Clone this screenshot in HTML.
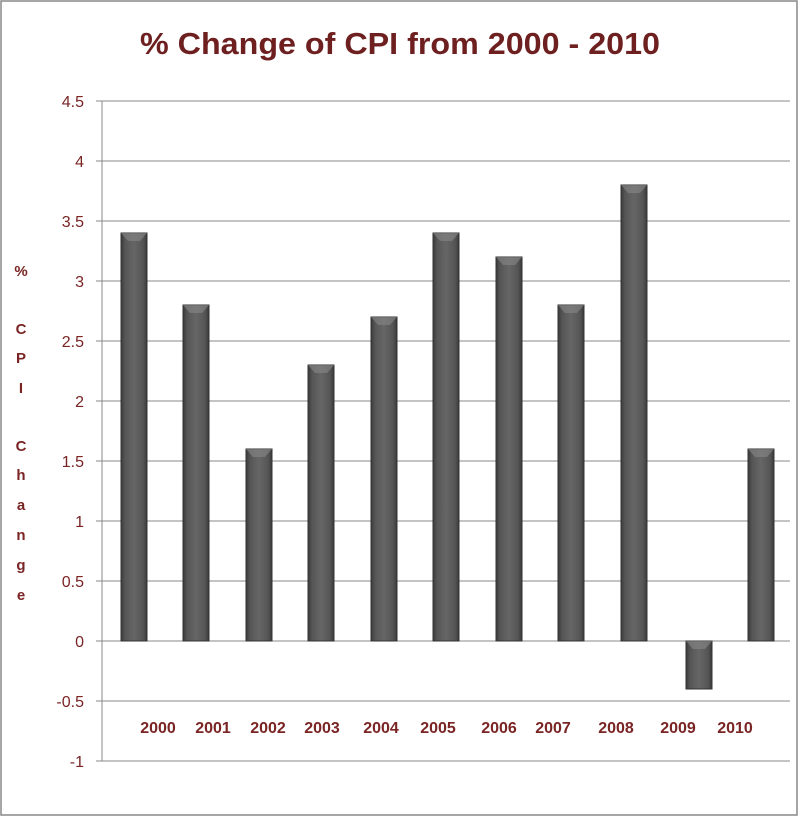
<!DOCTYPE html>
<html><head><style>body{margin:0;background:#fff}</style></head><body>
<svg width="799" height="818" xmlns="http://www.w3.org/2000/svg" font-family="Liberation Sans, sans-serif">
<defs>
<linearGradient id="g" x1="0" x2="1" y1="0" y2="0">
<stop offset="0" stop-color="#3a3a3a"/><stop offset="0.15" stop-color="#555"/><stop offset="0.5" stop-color="#666"/><stop offset="0.85" stop-color="#555"/><stop offset="1" stop-color="#3a3a3a"/>
</linearGradient>
</defs>
<rect x="1" y="1" width="796" height="814" fill="#fff" stroke="#888" stroke-width="1.5"/>
<text x="140" y="54" textLength="520" lengthAdjust="spacingAndGlyphs" font-size="31" font-weight="bold" fill="#6e2020">% Change of CPI from 2000 - 2010</text>
<g stroke="#888" stroke-width="1">
<line x1="96" x2="790" y1="101" y2="101"/><line x1="96" x2="790" y1="161" y2="161"/><line x1="96" x2="790" y1="221" y2="221"/><line x1="96" x2="790" y1="281" y2="281"/><line x1="96" x2="790" y1="341" y2="341"/><line x1="96" x2="790" y1="401" y2="401"/><line x1="96" x2="790" y1="461" y2="461"/><line x1="96" x2="790" y1="521" y2="521"/><line x1="96" x2="790" y1="581" y2="581"/><line x1="96" x2="790" y1="641" y2="641"/><line x1="96" x2="790" y1="701" y2="701"/><line x1="96" x2="790" y1="761" y2="761"/>
<line x1="102" x2="102" y1="101" y2="761"/>
</g>
<g fill="#7a2424" font-size="16" text-anchor="end">
<text x="84" y="107">4.5</text><text x="84" y="167">4</text><text x="84" y="227">3.5</text><text x="84" y="287">3</text><text x="84" y="347">2.5</text><text x="84" y="407">2</text><text x="84" y="467">1.5</text><text x="84" y="527">1</text><text x="84" y="587">0.5</text><text x="84" y="647">0</text><text x="84" y="707">-0.5</text><text x="84" y="767">-1</text>
</g>
<g fill="#7a2424" font-size="15" font-weight="bold" text-anchor="middle">
<text x="21" y="276">%</text><text x="21" y="334">C</text><text x="21" y="363">P</text><text x="21" y="393">I</text><text x="21" y="451">C</text><text x="21" y="480">h</text><text x="21" y="510">a</text><text x="21" y="540">n</text><text x="21" y="570">g</text><text x="21" y="600">e</text>
</g>
<g fill="url(#g)" stroke="#333" stroke-width="1">
<rect x="121" y="233" width="26" height="408"/>
<rect x="183" y="305" width="26" height="336"/>
<rect x="246" y="449" width="26" height="192"/>
<rect x="308" y="365" width="26" height="276"/>
<rect x="371" y="317" width="26" height="324"/>
<rect x="433" y="233" width="26" height="408"/>
<rect x="496" y="257" width="26" height="384"/>
<rect x="558" y="305" width="26" height="336"/>
<rect x="621" y="185" width="26" height="456"/>
<rect x="686" y="641" width="26" height="48"/>
<rect x="748" y="449" width="26" height="192"/>
</g>
<g fill="#888" opacity="0.6">
<polygon points="121,233 147,233 140,241 128,241"/><polygon points="183,305 209,305 202,313 190,313"/><polygon points="246,449 272,449 265,457 253,457"/><polygon points="308,365 334,365 327,373 315,373"/><polygon points="371,317 397,317 390,325 378,325"/><polygon points="433,233 459,233 452,241 440,241"/><polygon points="496,257 522,257 515,265 503,265"/><polygon points="558,305 584,305 577,313 565,313"/><polygon points="621,185 647,185 640,193 628,193"/><polygon points="686,641 712,641 705,649 693,649"/><polygon points="748,449 774,449 767,457 755,457"/>
</g>
<g fill="#7a2424" font-size="16" font-weight="bold" text-anchor="middle">
<text x="158" y="733">2000</text><text x="213" y="733">2001</text><text x="268" y="733">2002</text><text x="322" y="733">2003</text><text x="381" y="733">2004</text><text x="438" y="733">2005</text><text x="499" y="733">2006</text><text x="553" y="733">2007</text><text x="616" y="733">2008</text><text x="678" y="733">2009</text><text x="735" y="733">2010</text>
</g>
</svg>
</body></html>
